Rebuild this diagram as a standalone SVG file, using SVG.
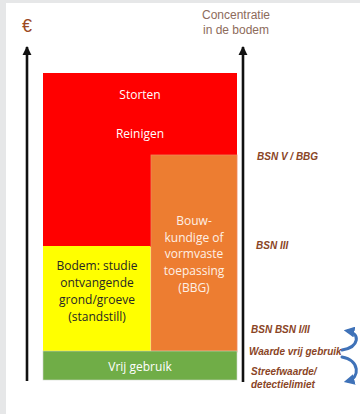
<svg xmlns="http://www.w3.org/2000/svg" width="360" height="414" viewBox="0 0 360 414">
  <style>
    .band { font-family: "Open Sans", "Liberation Sans", sans-serif; font-size: 12px; text-anchor: middle; dominant-baseline: central; }
    .light { fill: #ffffff; }
    .dark { fill: #262626; }
    .cream { fill: #fdf0e6; }
    .level { font-family: "Liberation Sans", Arial, sans-serif; font-size: 10px; font-weight: bold; font-style: italic; fill: #8a4526; dominant-baseline: central; }
    .axis { stroke: #111111; stroke-width: 2.6; fill: none; }
    .loop { stroke: #3f72b8; stroke-width: 3; fill: none; stroke-linecap: round; }
  </style>
  <defs>
    <marker id="axisHead" viewBox="0 0 10 10" refX="9" refY="5" markerWidth="3.6" markerHeight="3.6" orient="auto" markerUnits="strokeWidth">
      <path d="M0,0 L10,5 L0,10 Z" fill="#111111"/>
    </marker>
    <marker id="loopHead" viewBox="0 0 10 10" refX="6" refY="5" markerWidth="3.6" markerHeight="3.6" orient="auto" markerUnits="strokeWidth">
      <path d="M0,0 L10,5 L0,10 Z" fill="#3f72b8"/>
    </marker>
  </defs>

  <!-- page frame -->
  <rect x="0" y="0" width="360" height="414" fill="#ffffff"/>
  <rect x="0" y="0" width="6" height="414" fill="#e6e7e8"/>
  <rect x="0" y="0" width="360" height="3" fill="#e6e7e8"/>

  <!-- axes and the two curved level arrows -->
  <g id="connectors">
    <line class="axis" x1="27" y1="381" x2="27" y2="47" marker-end="url(#axisHead)"/>
    <line class="axis" x1="243" y1="382" x2="243" y2="47" marker-end="url(#axisHead)"/>
    <path class="loop" d="M342 350 C360 347, 360 333, 348 331" marker-end="url(#loopHead)"/>
    <path class="loop" d="M342 357 C360 360, 360 378, 348 381" marker-end="url(#loopHead)"/>
  </g>

  <g id="euro">
    <text x="27" y="32" font-family="Liberation Sans, Arial, sans-serif" font-size="18" fill="#9c4a1f" text-anchor="middle">€</text>
  </g>
  <g id="concentratie">
    <text x="236" y="19" font-family="Liberation Sans, Arial, sans-serif" font-size="12" fill="#8d6b5b" text-anchor="middle">Concentratie</text>
    <text x="236" y="34" font-family="Liberation Sans, Arial, sans-serif" font-size="12" fill="#8d6b5b" text-anchor="middle">in de bodem</text>
  </g>

  <!-- stacked bands -->
  <g id="storten">
    <rect x="43" y="73" width="194" height="41" fill="#ff0000"/>
    <text class="band light" x="140" y="94">Storten</text>
  </g>
  <g id="reinigen">
    <rect x="43" y="113" width="194" height="134" fill="#ff0000"/>
    <text class="band light" x="140" y="133">Reinigen</text>
  </g>
  <g id="bouwkundig">
    <rect x="151" y="155" width="86" height="197" fill="#ed7d31" stroke="#f0845a" stroke-width="0.8"/>
    <text class="band cream" x="194" y="220">Bouw-</text>
    <text class="band cream" x="194" y="237">kundige of</text>
    <text class="band cream" x="194" y="253">vormvaste</text>
    <text class="band cream" x="194" y="270">toepassing</text>
    <text class="band cream" x="194" y="287">(BBG)</text>
  </g>
  <g id="bodem">
    <rect x="43" y="246" width="107.5" height="106" fill="#ffff00"/>
    <text class="band dark" x="97" y="265">Bodem: studie</text>
    <text class="band dark" x="97" y="282">ontvangende</text>
    <text class="band dark" x="97" y="299">grond/groeve</text>
    <text class="band dark" x="97" y="316">(standstill)</text>
  </g>
  <g id="vrij-gebruik">
    <rect x="43" y="351" width="194" height="29" fill="#70ad47" stroke="#d0d5cc" stroke-width="0.6"/>
    <text class="band light" x="140" y="366">Vrij gebruik</text>
  </g>

  <!-- threshold labels -->
  <g id="bsn-v">
    <text class="level" x="257" y="156">BSN V / BBG</text>
  </g>
  <g id="bsn-iii">
    <text class="level" x="256" y="245">BSN III</text>
  </g>
  <g id="bsn-i-ii">
    <text class="level" x="251" y="329">BSN BSN I/II</text>
  </g>
  <g id="waarde-vrij">
    <text class="level" x="249" y="351">Waarde vrij gebruik</text>
  </g>
  <g id="streefwaarde">
    <text class="level" x="251" y="371">Streefwaarde/</text>
    <text class="level" x="251" y="384">detectielimiet</text>
  </g>
</svg>
